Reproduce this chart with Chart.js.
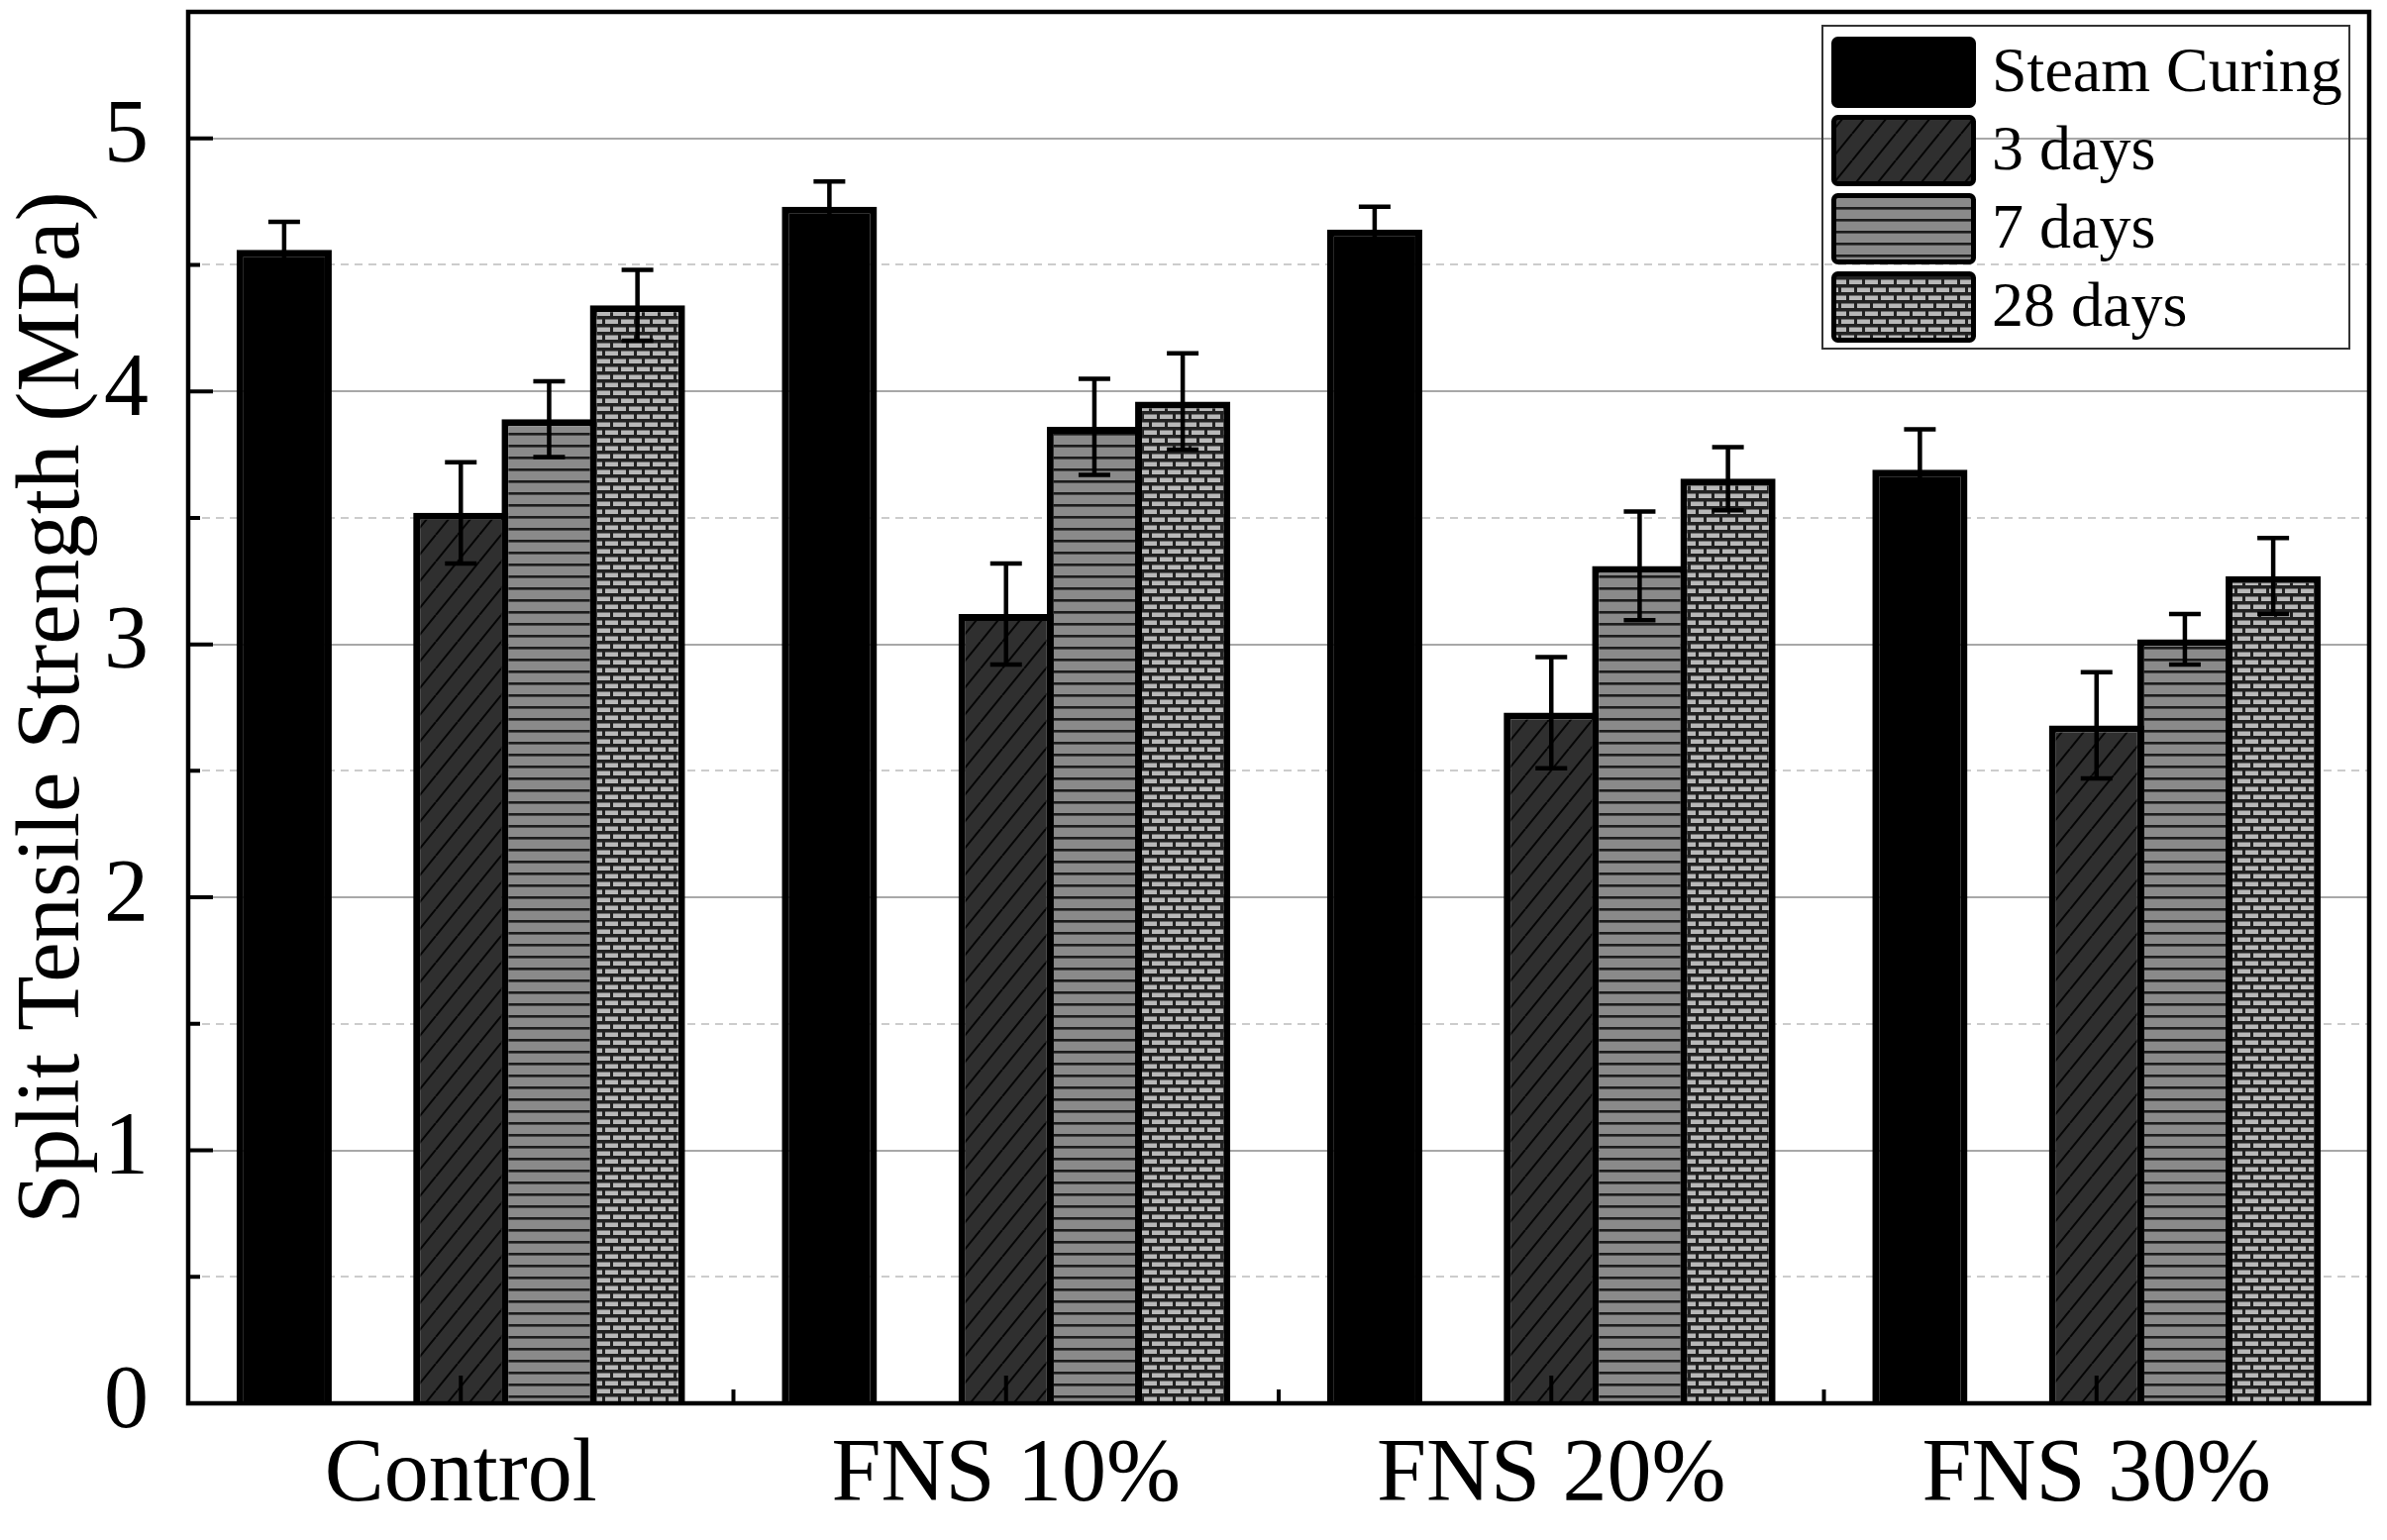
<!DOCTYPE html>
<html>
<head>
<meta charset="utf-8">
<script src="https://cdn.jsdelivr.net/npm/chart.js@4.4.0/dist/chart.umd.min.js"></script>
<style>
html,body{margin:0;padding:0;background:#fff;}
#wrap{width:2410px;height:1555px;position:relative;}
canvas{display:block;}
</style>
</head>
<body>
<div id="wrap"><canvas id="c" width="2410" height="1555" style="width:2410px;height:1555px"></canvas></div>
<script>
// ---- data ----
const categories = ['Control', 'FNS 10%', 'FNS 20%', 'FNS 30%'];
const seriesLabels = ['Steam Curing', '3 days', '7 days', '28 days'];
const steamCuring = [4.56, 4.73, 4.64, 3.69];
const days3 = [3.52, 3.12, 2.73, 2.68];
const days7 = [3.89, 3.86, 3.31, 3.02];
const days28 = [4.34, 3.96, 3.655, 3.27];
const errSteam = [0.11, 0.10, 0.09, 0.16];
const err3 = [0.20, 0.20, 0.22, 0.21];
const err7 = [0.15, 0.19, 0.215, 0.10];
const err28 = [0.14, 0.19, 0.125, 0.15];
const yAxisTitle = 'Split Tensile Strength (MPa)';
const yMin = 0, yMax = 5.5, yStep = 0.5;

const SERIF = "'Liberation Serif', 'Times New Roman', serif";
const mainCtx = document.getElementById('c').getContext('2d');

function makePattern(w, h, draw) {
  const c = document.createElement('canvas');
  c.width = w; c.height = h;
  const g = c.getContext('2d');
  draw(g, w, h);
  return mainCtx.createPattern(c, 'repeat');
}
const patDiag = makePattern(22, 27, (g, w, h) => {
  g.fillStyle = '#2f2f2f'; g.fillRect(0, 0, w, h);
  g.strokeStyle = '#050505'; g.lineWidth = 2;
  g.beginPath();
  for (const o of [-w, 0, w]) { g.moveTo(o, h); g.lineTo(o + w, 0); }
  g.stroke();
});
const patHoriz = makePattern(12, 12, (g, w, h) => {
  g.fillStyle = '#8a8a8a'; g.fillRect(0, 0, w, h);
  g.fillStyle = '#1c1c1c'; g.fillRect(0, 5, w, 2.6);
});
const patBrick = makePattern(16, 16, (g, w, h) => {
  g.fillStyle = '#222222'; g.fillRect(0, 0, w, h);
  g.fillStyle = '#b8b8b8';
  g.fillRect(3, 2.5, 13, 4.5);
  g.fillRect(11, 10.5, 13, 4.5);
  g.fillRect(-5, 10.5, 13, 4.5);
});

const barCommon = {
  borderColor: '#000',
  borderWidth: 7,
  barPercentage: 1.078,
  categoryPercentage: 0.81
};

const datasets = [
  Object.assign({label: seriesLabels[0], data: steamCuring, errors: errSteam, backgroundColor: '#000'}, barCommon),
  Object.assign({label: '', data: categories.map(() => null), isGap: true, backgroundColor: 'rgba(0,0,0,0)'}, barCommon),
  Object.assign({label: seriesLabels[1], data: days3, errors: err3, backgroundColor: patDiag}, barCommon),
  Object.assign({label: seriesLabels[2], data: days7, errors: err7, backgroundColor: patHoriz}, barCommon),
  Object.assign({label: seriesLabels[3], data: days28, errors: err28, backgroundColor: patBrick}, barCommon)
];

const errorBarPlugin = {
  id: 'errorBars',
  afterDatasetsDraw(chart) {
    const ctx = chart.ctx, ys = chart.scales.y;
    chart.data.datasets.forEach((ds, di) => {
      if (!ds.errors) return;
      const meta = chart.getDatasetMeta(di);
      meta.data.forEach((bar, i) => {
        const v = ds.data[i], e = ds.errors[i];
        if (v == null) return;
        const yt = ys.getPixelForValue(v + e), yb = ys.getPixelForValue(v - e);
        const x = bar.x, cw = 16;
        ctx.save();
        ctx.strokeStyle = '#000';
        ctx.lineWidth = 4.5;
        ctx.beginPath();
        ctx.moveTo(x, yt); ctx.lineTo(x, yb);
        ctx.moveTo(x - cw, yt); ctx.lineTo(x + cw, yt);
        ctx.moveTo(x - cw, yb); ctx.lineTo(x + cw, yb);
        ctx.stroke();
        ctx.restore();
      });
    });
  }
};

const framePlugin = {
  id: 'frameTicks',
  afterDraw(chart) {
    const ctx = chart.ctx, a = chart.chartArea, ys = chart.scales.y, xs = chart.scales.x;
    ctx.save();
    ctx.strokeStyle = '#000';
    ctx.lineWidth = 4;
    ctx.beginPath();
    ys.ticks.forEach(t => {
      const py = ys.getPixelForValue(t.value);
      const len = Number.isInteger(t.value) ? 25 : 12;
      ctx.moveTo(a.left, py); ctx.lineTo(a.left + len, py);
    });
    for (let i = 0; i < categories.length; i++) {
      const px = xs.getPixelForValue(i);
      ctx.moveTo(px, a.bottom); ctx.lineTo(px, a.bottom - 28);
      if (i < categories.length - 1) {
        const pm = (px + xs.getPixelForValue(i + 1)) / 2;
        ctx.moveTo(pm, a.bottom); ctx.lineTo(pm, a.bottom - 14);
      }
    }
    ctx.stroke();
    ctx.lineWidth = 4.5;
    ctx.strokeRect(a.left, a.top, a.right - a.left, a.bottom - a.top);
    ctx.restore();
  }
};

const legendPlugin = {
  id: 'boxLegend',
  afterDraw(chart) {
    const ctx = chart.ctx, a = chart.chartArea;
    const items = chart.data.datasets.filter(d => !d.isGap);
    const bw = 532, bh = 326;
    const bx = a.right - 20 - bw, by = a.top + 14;
    ctx.save();
    ctx.strokeStyle = '#333';
    ctx.lineWidth = 2;
    ctx.strokeRect(bx, by, bw, bh);
    const sw = 146, sh = 72, pitch = 79;
    ctx.font = '64px ' + SERIF;
    ctx.textBaseline = 'middle';
    ctx.textAlign = 'left';
    items.forEach((d, i) => {
      const sx = bx + 9, sy = by + 11 + i * pitch;
      ctx.beginPath();
      ctx.roundRect(sx + 2.5, sy + 2.5, sw - 5, sh - 5, 4);
      ctx.fillStyle = d.backgroundColor;
      ctx.fill();
      ctx.lineWidth = 5;
      ctx.strokeStyle = '#000';
      ctx.stroke();
      ctx.fillStyle = '#000';
      ctx.fillText(d.label, bx + 171, sy + sh / 2 + 2);
    });
    ctx.restore();
  }
};

new Chart(document.getElementById('c'), {
  type: 'bar',
  data: { labels: categories, datasets: datasets },
  options: {
    responsive: false,
    devicePixelRatio: 1,
    animation: false,
    layout: { padding: { top: 12, right: 18, left: 0, bottom: 0 } },
    plugins: { legend: { display: false }, tooltip: { enabled: false } },
    scales: {
      x: {
        type: 'category',
        grid: { display: false, drawTicks: false },
        border: { display: false },
        ticks: { color: '#000', font: { family: SERIF, size: 90 }, padding: 20, maxRotation: 0 },
        afterFit(s) { s.height = 138; s.paddingLeft = 0; s.paddingRight = 0; }
      },
      y: {
        min: yMin, max: yMax,
        grid: {
          drawTicks: false,
          lineWidth: 2,
          color: (c) => {
            const v = c.tick ? c.tick.value : 0;
            if (v <= yMin || v >= yMax) return 'rgba(0,0,0,0)';
            return Number.isInteger(v) ? '#a8a8a8' : '#cccccc';
          }
        },
        border: {
          display: false,
          dash: (c) => (c.tick && !Number.isInteger(c.tick.value)) ? [8, 6] : []
        },
        ticks: {
          stepSize: yStep, autoSkip: false, color: '#000', padding: 40,
          font: { family: SERIF, size: 90 },
          callback: (v) => Number.isInteger(v) && v <= 5 ? String(v) : ''
        },
        title: {
          display: true, text: yAxisTitle, color: '#000',
          font: { family: SERIF, size: 91 }, padding: 0
        },
        afterFit(s) { s.width = 190; s.paddingTop = 0; s.paddingBottom = 0; }
      }
    }
  },
  plugins: [errorBarPlugin, framePlugin, legendPlugin]
});
</script>
</body>
</html>
